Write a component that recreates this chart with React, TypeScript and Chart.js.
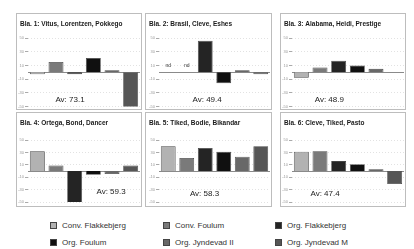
import React, { useEffect, useRef } from "react";
import { Chart, registerables } from "chart.js";
Chart.register(...registerables);

const seriesNames = ["Conv. Flakkebjerg", "Conv. Foulum", "Org. Flakkebjerg", "Org. Foulum", "Org. Jyndevad II", "Org. Jyndevad M"];
const seriesColors = ["#b2b2b2", "#7a7a7a", "#242424", "#101010", "#686868", "#565656"];

const panelTitles = [
  "Bla. 1: Vitus, Lorentzen, Pokkego",
  "Bla. 2: Brasil, Cleve, Eshes",
  "Bla. 3: Alabama, Heidi, Prestige",
  "Bla. 4: Ortega, Bond, Dancer",
  "Bla. 5: Tiked, Bodie, Bikandar",
  "Bla. 6: Cleve, Tiked, Pasto",
];
const panelAverages = ["Av: 73.1", "Av: 49.4", "Av: 48.9", "Av: 59.3", "Av: 58.3", "Av: 47.4"];

const mix1 = [-3, 15, -3, 21, 3, -55];
const mix2 = [null, null, 46, -16, 3, -3];
const mix3 = [-8, 7, 17, 10, 5, null];
const mix4 = [32, 9, -55, -6, -5, 9];
const mix5 = [40, 21, 37, 31, 23, 40];
const mix6 = [31, 32, 16, 11, 3, -21];
const panelValues = [mix1, mix2, mix3, mix4, mix5, mix6];
const missingLabel = "nd";

const yMin = -50;
const yMax = 50;
const yStep = 10;

const FONT = '"Liberation Sans", Arial, sans-serif';

type PanelProps = {
  idx: number;
  left: number;
  top: number;
  width: number;
  height: number;
  padTop: number;
  padBottom: number;
  axisW: number;
  avAt: [number, number];
  showMissing: boolean;
};

function Panel(p: PanelProps) {
  const ref = useRef<HTMLCanvasElement | null>(null);
  useEffect(() => {
    if (!ref.current) return;
    const values = panelValues[p.idx];
    const deco = {
      id: "deco" + p.idx,
      beforeDatasetsDraw(chart: any) {
        const { ctx, chartArea, scales } = chart;
        const y0 = Math.round(scales.y.getPixelForValue(0)) + 0.5;
        ctx.save();
        ctx.strokeStyle = "#8a8a8a";
        ctx.lineWidth = 1;
        ctx.beginPath();
        ctx.moveTo(chartArea.left, y0);
        ctx.lineTo(chartArea.right, y0);
        ctx.stroke();
        ctx.restore();
      },
      afterDraw(chart: any) {
        const { ctx, scales, width, height } = chart;
        ctx.save();
        ctx.strokeStyle = "#bdbdbd";
        ctx.lineWidth = 1;
        ctx.strokeRect(0.5, 0.5, width - 1, height - 1);
        ctx.fillStyle = "#1a1a1a";
        ctx.font = "bold 6.5px " + FONT;
        ctx.textBaseline = "middle";
        ctx.textAlign = "left";
        ctx.fillText(panelTitles[p.idx], 4, 11);
        ctx.font = "8px " + FONT;
        ctx.textAlign = "center";
        ctx.fillStyle = "#222";
        ctx.fillText(panelAverages[p.idx], scales.x.getPixelForValue(p.avAt[0]), scales.y.getPixelForValue(p.avAt[1]));
        if (p.showMissing) {
          ctx.font = "5px " + FONT;
          ctx.fillStyle = "#333";
          values.forEach((v, i) => {
            if (v === null) {
              ctx.fillText(missingLabel, scales.x.getPixelForValue(i), scales.y.getPixelForValue(0) - 7);
            }
          });
        }
        ctx.restore();
      },
    };
    const chart = new Chart(ref.current, {
      type: "bar",
      data: {
        labels: seriesNames,
        datasets: [
          {
            data: values as any,
            backgroundColor: seriesColors,
            borderColor: "#444",
            borderWidth: 0.8,
            barPercentage: 0.8,
            categoryPercentage: 1,
          },
        ],
      },
      options: {
        animation: false,
        responsive: false,
        devicePixelRatio: 1,
        layout: { padding: { top: p.padTop, bottom: p.padBottom, left: 0, right: 2 } },
        plugins: { legend: { display: false }, tooltip: { enabled: false }, title: { display: false } },
        scales: {
          x: { display: false, offset: true },
          y: {
            min: yMin,
            max: yMax,
            afterFit: (s: any) => {
              s.width = p.axisW;
            },
            ticks: { stepSize: yStep, font: { size: 4, family: FONT }, color: "#9a9a9a", padding: 1 },
            grid: { color: "#e2e2e2", tickLength: 3, tickColor: "#aaa", lineWidth: 1 },
            border: { display: false, dash: [1, 2] },
          },
        },
      },
      plugins: [deco],
    });
    return () => chart.destroy();
  }, []);
  return (
    <canvas
      ref={ref}
      width={p.width}
      height={p.height}
      style={{ position: "absolute", left: p.left, top: p.top, width: p.width, height: p.height }}
    />
  );
}

const colLeft = [16, 145, 280];
const colWidth = [126, 127, 126];
const colAxis = [12, 14, 12];
const rowTop = [13, 112];
const rowHeight = [97, 95];
const rowPadTop = [25, 28];
const rowPadBottom = [2, 5];
const avPositions: [number, number][] = [
  [1.75, -40],
  [2.1, -40],
  [1.5, -40],
  [3.95, -34],
  [1.96, -37],
  [1.27, -37],
];

const legendCols = [50, 163, 275];
const legendRows = [220, 237];

export default function App() {
  const panels = [];
  for (let i = 0; i < 6; i++) {
    const c = i % 3;
    const r = Math.floor(i / 3);
    panels.push(
      <Panel
        key={i}
        idx={i}
        left={colLeft[c]}
        top={rowTop[r]}
        width={colWidth[c]}
        height={rowHeight[r]}
        padTop={rowPadTop[r]}
        padBottom={rowPadBottom[r]}
        axisW={colAxis[c]}
        avAt={avPositions[i]}
        showMissing={i === 1}
      />
    );
  }
  return (
    <div style={{ position: "fixed", left: 0, top: 0, width: 414, height: 249, background: "#fff", overflow: "hidden" }}>
      {panels}
      {seriesNames.map((n, i) => (
        <div
          key={n}
          style={{
            position: "absolute",
            left: legendCols[i % 3],
            top: legendRows[Math.floor(i / 3)],
            height: 10,
            lineHeight: "10px",
            display: "flex",
            alignItems: "center",
            font: "8px " + FONT,
            color: "#333",
            whiteSpace: "nowrap",
          }}
        >
          <span
            style={{
              display: "inline-block",
              width: 5,
              height: 5,
              background: seriesColors[i],
              border: "0.5px solid #444",
              marginRight: 5,
            }}
          />
          {n}
        </div>
      ))}
    </div>
  );
}
